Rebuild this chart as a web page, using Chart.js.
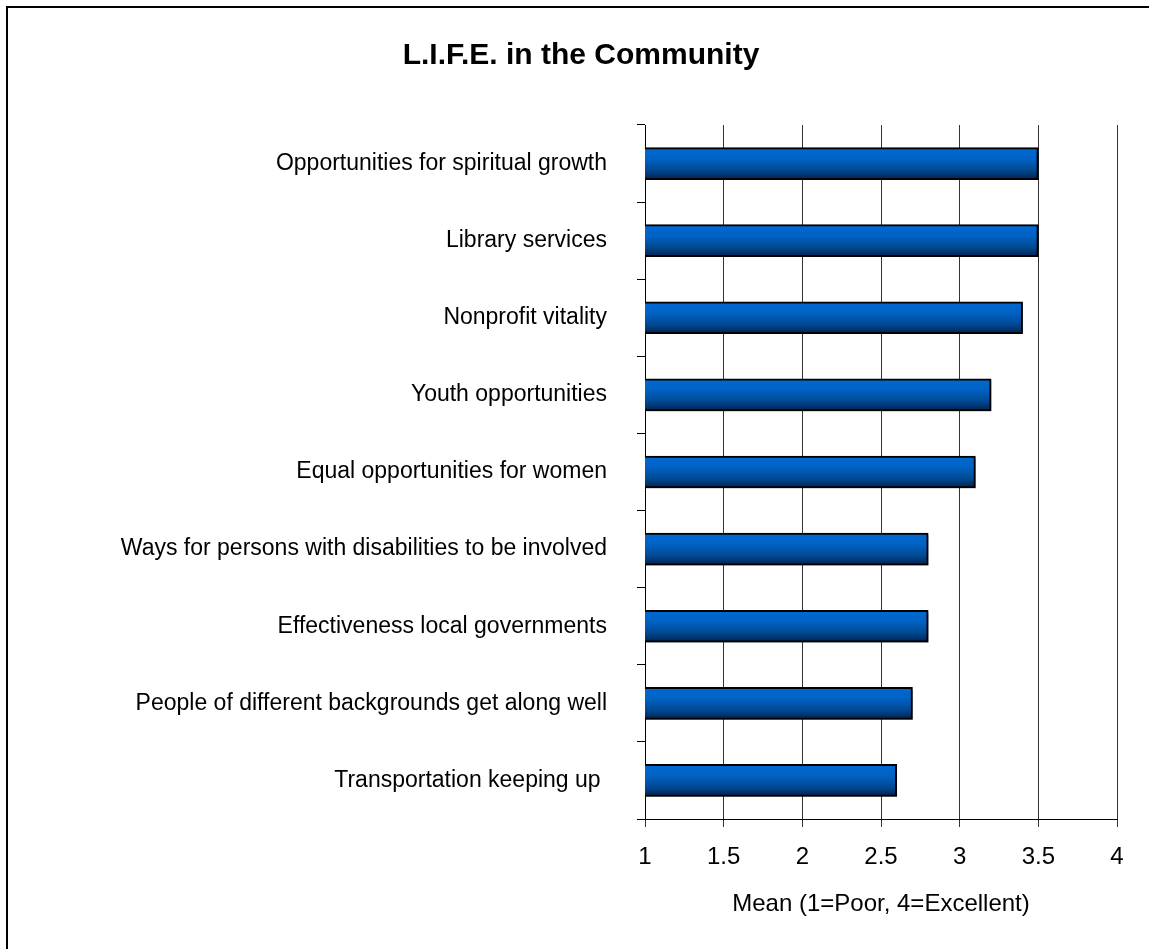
<!DOCTYPE html>
<html>
<head>
<meta charset="utf-8">
<script src="https://cdn.jsdelivr.net/npm/chart.js@4"></script>
<style>
  html, body { margin: 0; padding: 0; background: #fff; }
  #wrap { position: absolute; left: 0; top: 0; width: 1149px; height: 949px; }
</style>
</head>
<body>
<div id="wrap"><canvas id="c" width="1149" height="949"></canvas></div>
<script>
const chartTitle = 'L.I.F.E. in the Community';
const categories = [
  'Opportunities for spiritual growth',
  'Library services',
  'Nonprofit vitality',
  'Youth opportunities',
  'Equal opportunities for women',
  'Ways for persons with disabilities to be involved',
  'Effectiveness local governments',
  'People of different backgrounds get along well',
  'Transportation keeping up '
];
const meanValues = [3.5, 3.5, 3.4, 3.2, 3.1, 2.8, 2.8, 2.7, 2.6];
const xAxisTitle = 'Mean (1=Poor, 4=Excellent)';
const xMin = 1, xMax = 4, xStep = 0.5;

const FONT = "'Liberation Sans', Arial, sans-serif";
const BAR_T = 32;
const PAD_L = 45;

const framePlugin = {
  id: 'frame',
  beforeDraw(chart) {
    const c = chart.ctx;
    c.save();
    c.fillStyle = '#fff';
    c.fillRect(0, 0, chart.width, chart.height);
    c.strokeStyle = '#000';
    c.lineWidth = 2;
    c.beginPath();
    c.moveTo(7, chart.height);
    c.lineTo(7, 7);
    c.lineTo(chart.width, 7);
    c.stroke();
    c.restore();
  }
};

const shadowPlugin = {
  id: 'barShadow',
  beforeDatasetDraw(chart) {
    const c = chart.ctx;
    c.save();
    c.shadowColor = 'rgba(0,0,0,0.35)';
    c.shadowOffsetX = 2;
    c.shadowOffsetY = 2;
    c.shadowBlur = 2;
  },
  afterDatasetDraw(chart) {
    chart.ctx.restore();
  }
};

function barGradient(context) {
  const chart = context.chart;
  if (!chart.chartArea || !chart.scales.y) return '#0060c0';
  const yc = chart.scales.y.getPixelForValue(context.dataIndex);
  const g = chart.ctx.createLinearGradient(0, yc - BAR_T / 2, 0, yc + BAR_T / 2);
  g.addColorStop(0, '#006ad4');
  g.addColorStop(0.35, '#0062c4');
  g.addColorStop(0.7, '#004a94');
  g.addColorStop(1, '#00224f');
  return g;
}

new Chart(document.getElementById('c'), {
  type: 'bar',
  data: {
    labels: categories,
    datasets: [{
      data: meanValues,
      backgroundColor: barGradient,
      borderColor: '#000',
      borderWidth: 2,
      borderSkipped: false,
      barThickness: BAR_T
    }]
  },
  plugins: [framePlugin, shadowPlugin],
  options: {
    indexAxis: 'y',
    responsive: false,
    animation: false,
    devicePixelRatio: 1,
    layout: { padding: { left: PAD_L, right: 32, top: 0, bottom: 0 } },
    plugins: {
      legend: { display: false },
      tooltip: { enabled: false },
      title: {
        display: true,
        text: chartTitle,
        color: '#000',
        font: { family: FONT, size: 30, weight: 'bold', lineHeight: 1.2 },
        padding: { top: 38, bottom: 51 }
      }
    },
    scales: {
      y: {
        type: 'category',
        offset: true,
        border: { display: true, color: '#000', width: 1 },
        grid: { drawOnChartArea: false, drawTicks: true, tickLength: 8, color: '#000', offset: true },
        ticks: { color: '#000', font: { family: FONT, size: 23 }, padding: 30, autoSkip: false },
        afterFit(scale) { scale.width = 645 - PAD_L; }
      },
      x: {
        type: 'linear',
        min: xMin,
        max: xMax,
        border: { display: true, color: '#000', width: 1 },
        grid: { color: '#333', lineWidth: 1, drawTicks: true, tickLength: 8 },
        ticks: {
          stepSize: xStep,
          color: '#000',
          font: { family: FONT, size: 24 },
          padding: 16,
          maxRotation: 0,
          callback: (v) => String(v)
        },
        title: {
          display: true,
          text: xAxisTitle,
          color: '#000',
          font: { family: FONT, size: 24, lineHeight: 1.2 },
          padding: { top: 0, bottom: 30 }
        },
        afterFit(scale) { scale.height = 130; }
      }
    }
  }
});
</script>
</body>
</html>
